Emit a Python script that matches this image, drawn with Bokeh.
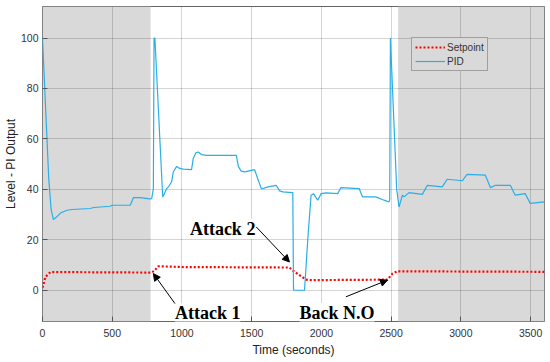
from bokeh.plotting import figure
from bokeh.models import (Range1d, Label, Arrow, NormalHead, FixedTicker, Legend)
from bokeh.embed import file_html
from bokeh.resources import INLINE

# ---------------- data ----------------
pid_t = [0, 45, 62, 78, 100, 129, 176, 212, 343, 367, 486, 498, 629, 652, 700,
         771, 783, 795, 800, 806, 862, 876, 890, 910, 926, 938, 962, 985, 1010,
         1069, 1081, 1100, 1117, 1140, 1176, 1390, 1405, 1425, 1450, 1521,
         1545, 1569, 1590, 1617, 1676, 1700, 1724, 1790, 1795, 1800, 1879,
         1902, 1926, 1943, 1974, 1998, 2033, 2117, 2140, 2271, 2295, 2390,
         2450, 2486, 2490, 2495, 2540, 2557, 2581, 2593, 2629, 2724, 2760,
         2867, 2902, 3010, 3045, 3176, 3212, 3248, 3355, 3390, 3462, 3498,
         3600]
pid_v = [100, 44, 32, 28, 29, 30.6, 31.7, 32, 32.4, 32.8, 33.3, 33.7, 33.7,
         36.7, 36.7, 36.2, 36.3, 40.3, 100, 100, 37, 38.5, 40.3, 41.5, 43,
         46.9, 49.1, 48.3, 48, 47.8, 52.2, 54.5, 54.8, 53.8, 53.5, 53.5, 49,
         47.2, 46.9, 47.8, 44, 40.3, 40.5, 41, 41.6, 39.4, 39, 38.7, 38.7, 0,
         0, 19.8, 37.7, 38.3, 35.7, 38.3, 38.6, 38.3, 40.7, 40.3, 37, 37, 35.7,
         35, 36, 100, 40, 33, 37.7, 37, 38.7, 38, 41.6, 41, 44, 43.4, 45.9,
         45.6, 40.7, 41.6, 41.6, 37.7, 38.3, 34.4, 35]

sp_t = [0, 21, 57, 780, 800, 831, 1000, 1771, 1807, 1843, 1890, 1926, 2474,
        2510, 2545, 3600]
sp_v = [1, 5.3, 7.2, 7.0, 7.6, 9.5, 9.2, 9.0, 7.3, 6.0, 4.2, 4.0, 4.2, 6.6,
        7.5, 7.3]

band_left = [0, 2550]
band_right = [775, 3600]

x_ticks = [0, 500, 1000, 1500, 2000, 2500, 3000, 3500]
y_ticks = [0, 20, 40, 60, 80, 100]

labels = ["Attack 1", "Attack 2", "Back N.O"]
label_x = [950, 1057, 1843]
label_y = [-9.1, 24.4, -9.0]
arrow_x0 = [950, 1533, 2176]
arrow_y0 = [-5.3, 25.1, -2.6]
arrow_x1 = [795, 1771, 2474]
arrow_y1 = [6.6, 11.2, 4.0]

# ---------------- figure ----------------
p = figure(width=550, height=362, output_backend="svg", toolbar_location=None,
           x_range=Range1d(0, 3600), y_range=Range1d(-12.4, 112.5),
           min_border_left=42, min_border_right=6, min_border_top=6,
           min_border_bottom=41)
p.background_fill_color = "white"
p.border_fill_color = "white"
p.outline_line_color = "#666666"
p.outline_line_width = 1

bands = p.quad(left=band_left, right=band_right, bottom=-12.4, top=112.5,
               fill_color="#d9d9d9", line_color=None)
bands.level = "image"

p.xgrid.ticker = FixedTicker(ticks=x_ticks)
p.ygrid.ticker = FixedTicker(ticks=y_ticks)
for g in (p.xgrid, p.ygrid):
    g.grid_line_color = "#262626"
    g.grid_line_alpha = 0.2
    g.grid_line_width = 1

sp = p.line(sp_t, sp_v, line_color="red", line_width=2.2, line_dash="2 2")
pid = p.line(pid_t, pid_v, line_color="#2aaee6", line_width=1.2)

for ax, ticks in ((p.xaxis[0], x_ticks), (p.yaxis[0], y_ticks)):
    ax.ticker = FixedTicker(ticks=ticks)
    ax.axis_line_color = None
    ax.major_tick_in = 5
    ax.major_tick_out = 0
    ax.major_tick_line_color = "#555555"
    ax.minor_tick_line_color = None
    ax.major_label_text_font = "Liberation Sans"
    ax.major_label_text_font_size = "10.5px"
    ax.major_label_text_color = "#333333"
    ax.axis_label_text_font = "Liberation Sans"
    ax.axis_label_text_font_size = "12px"
    ax.axis_label_text_font_style = "normal"
    ax.axis_label_text_color = "#222222"

p.xaxis.axis_label = "Time (seconds)"
p.yaxis.axis_label = "Level - PI Output"
p.xaxis.major_label_standoff = 7
p.xaxis.axis_label_standoff = 3
p.yaxis.major_label_standoff = 4
p.yaxis.axis_label_standoff = 0

for txt, lx, ly in zip(labels, label_x, label_y):
    p.add_layout(Label(x=lx, y=ly, text=txt, text_font="Liberation Serif",
                       text_font_style="bold", text_font_size="18px",
                       text_color="black", text_baseline="alphabetic",
                       background_fill_color="white"))
for x0, y0, x1, y1 in zip(arrow_x0, arrow_y0, arrow_x1, arrow_y1):
    p.add_layout(Arrow(x_start=x0, y_start=y0, x_end=x1, y_end=y1,
                       line_color="black", line_width=1,
                       end=NormalHead(size=7, fill_color="black",
                                      line_color="black")))

legend = Legend(items=[("Setpoint", [sp]), ("PID", [pid])],
                location=(369, 250))
legend.label_text_font = "Liberation Sans"
legend.label_text_font_size = "10px"
legend.label_text_color = "#333333"
legend.glyph_width = 30
legend.glyph_height = 12
legend.label_height = 12
legend.label_standoff = 2
legend.spacing = 2
legend.padding = 3
legend.margin = 0
legend.border_line_color = "#666666"
legend.background_fill_color = "#d9d9d9"
legend.background_fill_alpha = 1
p.add_layout(legend)

open("out.html", "w").write(file_html(p, INLINE))
